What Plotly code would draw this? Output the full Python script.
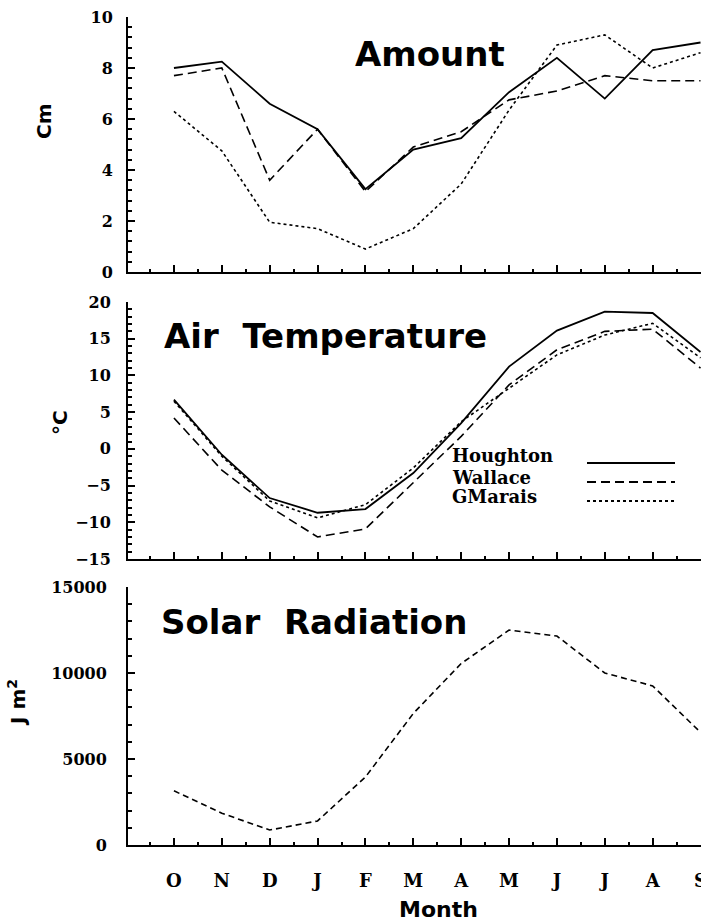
import plotly.graph_objects as go

# months Oct -> Sep
months = ["O", "N", "D", "J", "F", "M", "A", "M", "J", "J", "A", "S"]
month_idx = list(range(len(months)))

# snow amount (cm)
amount_houghton = [8.0, 8.25, 6.6, 5.6, 3.25, 4.8, 5.25, 7.05, 8.4, 6.8, 8.7, 9.0]
amount_wallace = [7.7, 8.0, 3.6, 5.6, 3.15, 4.9, 5.5, 6.75, 7.1, 7.7, 7.5, 7.5]
amount_gmarais = [6.3, 4.75, 1.95, 1.7, 0.9, 1.7, 3.45, 6.35, 8.9, 9.3, 8.0, 8.6]

# air temperature (deg C)
temp_houghton = [6.7, -0.8, -6.7, -8.7, -8.2, -3.3, 3.5, 11.2, 16.1, 18.7, 18.5, 13.2]
temp_wallace = [4.2, -2.9, -7.9, -12.0, -10.9, -4.6, 1.7, 8.7, 13.5, 16.0, 16.3, 11.0]
temp_gmarais = [6.5, -1.0, -7.1, -9.4, -7.6, -2.6, 3.7, 8.3, 12.8, 15.5, 17.1, 12.4]

# solar radiation
solar = [3150, 1850, 870, 1400, 3950, 7650, 10550, 12500, 12150, 10000, 9250, 6550]

W, H = 701, 924
L = 128


def px(x):
    return (x - L) / (W - L)


def py(y):
    return 1 - y / H


serif = dict(family="DejaVu Serif", size=16, color="black", weight="bold")
sans = "DejaVu Sans"

fig = go.Figure()

styles = [
    ("Houghton", dict(color="black", width=1.8)),
    ("Wallace", dict(color="black", width=1.6, dash="9px,5px")),
    ("GMarais", dict(color="black", width=1.6, dash="dot")),
]

for (name, ln), vals in zip(styles, [amount_houghton, amount_wallace, amount_gmarais]):
    fig.add_trace(go.Scatter(x=month_idx, y=vals, mode="lines", name=name, line=ln,
                             xaxis="x", yaxis="y", showlegend=False))

for (name, ln), vals in zip(styles, [temp_houghton, temp_wallace, temp_gmarais]):
    fig.add_trace(go.Scatter(x=month_idx, y=vals, mode="lines", name=name, line=ln,
                             xaxis="x2", yaxis="y2", showlegend=False))

fig.add_trace(go.Scatter(x=month_idx, y=solar, mode="lines", name="Solar",
                         line=dict(color="black", width=1.6, dash="6px,4px"),
                         xaxis="x3", yaxis="y3", showlegend=False))

xcommon = dict(range=[-0.96, 11.01], tickvals=month_idx, ticktext=months, automargin=False,
               showline=True, linecolor="black", linewidth=2, showgrid=False, zeroline=False,
               ticks="inside", ticklen=7, tickwidth=1.5, tickcolor="black",
               ticklabeloverflow="allow",
               minor=dict(dtick=0.5, ticks="inside", ticklen=3, tickcolor="black"),
               tickfont=dict(family="DejaVu Serif", size=18, color="black", weight="bold"))

ycommon = dict(showline=True, linecolor="black", linewidth=2, showgrid=False, zeroline=False,
               ticks="inside", ticklen=7, tickwidth=1.5, tickcolor="black", automargin=False,
               tickfont=serif, tickformat="d")

fig.update_layout(
    width=W, height=H,
    margin=dict(l=L, r=0, t=0, b=0),
    paper_bgcolor="white", plot_bgcolor="white",
    showlegend=False,
    xaxis=dict(xcommon, anchor="y", showticklabels=False),
    xaxis2=dict(xcommon, anchor="y2", showticklabels=False),
    xaxis3=dict(xcommon, anchor="y3", ticklabelstandoff=18),
    yaxis=dict(ycommon, domain=[py(272), py(17)], range=[0, 10], dtick=2, ticklabelstandoff=10,
               minor=dict(dtick=0.4, ticks="inside", ticklen=4, tickcolor="black")),
    yaxis2=dict(ycommon, domain=[py(559), py(302)], range=[-15, 20], dtick=5, ticklabelstandoff=12,
                minor=dict(dtick=1, ticks="inside", ticklen=4, tickcolor="black")),
    yaxis3=dict(ycommon, domain=[py(845), py(587)], range=[0, 15000], dtick=5000, ticklabelstandoff=16,
                minor=dict(dtick=1000, ticks="inside", ticklen=4, tickcolor="black")),
)

title_font = dict(family=sans, size=34, color="black", weight="bold")
label_font = dict(family=sans, size=20, color="black", weight="bold")

annots = [
    dict(text="Amount", x=px(353), y=py(54), xanchor="left", yanchor="middle", font=title_font),
    dict(text="Air  Temperature", x=px(162), y=py(336), xanchor="left", yanchor="middle", font=title_font),
    dict(text="Solar  Radiation", x=px(159), y=py(622), xanchor="left", yanchor="middle", font=title_font),
    dict(text="Cm", x=px(44), y=py(121), textangle=-90, xanchor="center", yanchor="middle", font=label_font),
    dict(text="°C", x=px(60), y=py(423), textangle=-90, xanchor="center", yanchor="middle", font=label_font),
    dict(text="J m<sup>2</sup>", x=px(17), y=py(703), textangle=-90, xanchor="center", yanchor="middle", font=label_font),
    dict(text="Month", x=px(438), y=py(909), xanchor="center", yanchor="middle",
         font=dict(family=sans, size=22, color="black", weight="bold")),
]

# legend drawn by hand: names on the left, line samples on the right
leg_font = dict(family="DejaVu Serif", size=18, color="black", weight="bold")
leg_rows = [("Houghton", 456, 463, None), ("Wallace", 477, 482, "9px,5px"), ("GMarais", 497, 501, "dot")]
shapes = []
for name, ty, ly, dash in leg_rows:
    annots.append(dict(text=name, x=px(450), y=py(ty), xanchor="left", yanchor="middle", font=leg_font))
    line = dict(color="black", width=1.8)
    if dash:
        line["dash"] = dash
    shapes.append(dict(type="line", xref="paper", yref="paper",
                       x0=px(587), x1=px(675), y0=py(ly), y1=py(ly), line=line))

for a in annots:
    a.update(xref="paper", yref="paper", showarrow=False)

fig.update_layout(annotations=annots, shapes=shapes)

# drop the page margin so the figure sits at the window's corner
fig.write_html("out.html", config={"displayModeBar": False},
               post_script="document.body.style.margin='0';")
